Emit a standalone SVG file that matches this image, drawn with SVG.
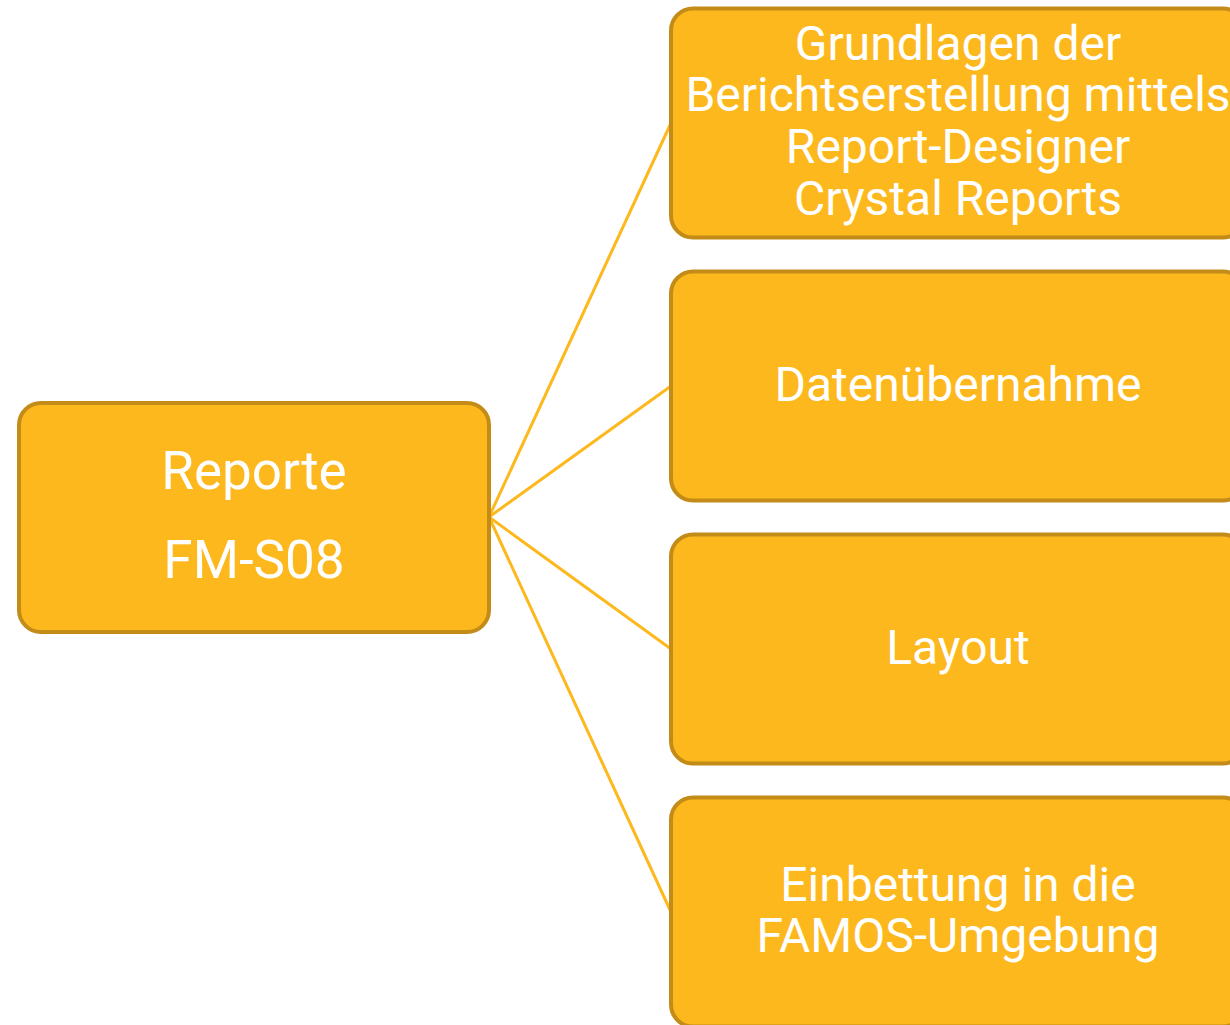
<svg xmlns="http://www.w3.org/2000/svg" width="1230" height="1025" viewBox="0 0 1230 1025">
<style>
.box{fill:#FDB81E;stroke:#C38B17;stroke-width:4}
.t{font-family:Roboto,"Liberation Sans",sans-serif;fill:#FFFFFF;text-anchor:middle}
.r{font-size:48px}
.l{font-size:53px}
.c{stroke:#FDB81E;stroke-width:3;fill:none}
</style>
<rect width="1230" height="1025" fill="#FFFFFF"/>
<g id="connectors">
<line class="c" x1="489" y1="517" x2="671" y2="123"/>
<line class="c" x1="489" y1="517" x2="671" y2="386"/>
<line class="c" x1="489" y1="517" x2="671" y2="649"/>
<line class="c" x1="489" y1="517" x2="671" y2="912"/>
</g>
<g id="root">
<rect class="box" x="19" y="403" width="470" height="229" rx="22"/>
<text class="t l" x="254" y="489">Reporte</text>
<text class="t l" x="254" y="578">FM-S08</text>
</g>
<g id="n1">
<rect class="box" x="671" y="8.5" width="574" height="229" rx="22"/>
<text class="t r" x="958" y="60">Grundlagen der</text>
<text class="t r" x="958" y="111">Berichtserstellung mittels</text>
<text class="t r" x="958" y="163">Report-Designer</text>
<text class="t r" x="958" y="215">Crystal Reports</text>
</g>
<g id="n2">
<rect class="box" x="671" y="271.5" width="574" height="229" rx="22"/>
<text class="t r" x="958" y="401">Datenübernahme</text>
</g>
<g id="n3">
<rect class="box" x="671" y="534.5" width="574" height="229" rx="22"/>
<text class="t r" x="958" y="664">Layout</text>
</g>
<g id="n4">
<rect class="box" x="671" y="797.5" width="574" height="229" rx="22"/>
<text class="t r" x="958" y="901">Einbettung in die</text>
<text class="t r" x="958" y="952">FAMOS-Umgebung</text>
</g>
</svg>
